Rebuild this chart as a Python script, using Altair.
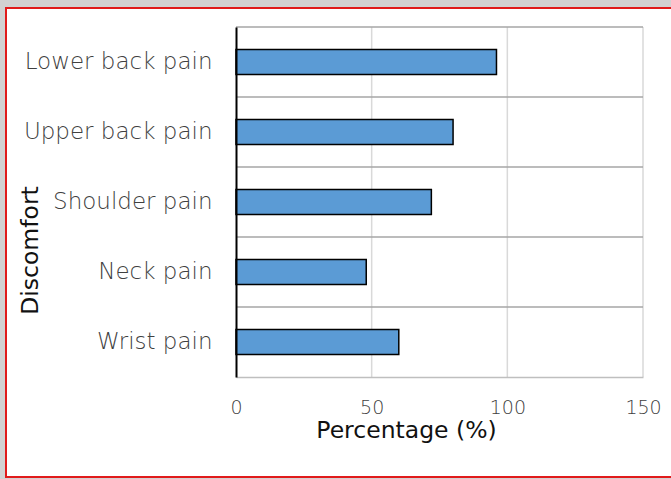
import altair as alt
import pandas as pd

categories = ["Lower back pain", "Upper back pain", "Shoulder pain", "Neck pain", "Wrist pain"]
values = [96, 80, 72, 48, 60]
x_ticks = [0, 50, 100, 150]
grid_values = [50, 100, 150]

df = pd.DataFrame({"Discomfort": categories, "Percentage": values})
gdf = pd.DataFrame({"g": grid_values})

FONT = "DejaVu Sans"

xscale = alt.Scale(domain=[0, 150], nice=False, zero=True)
yscale = alt.Scale(domain=categories, paddingInner=0, paddingOuter=0)

x_axis = alt.Axis(
    values=x_ticks, grid=False, ticks=False, domain=True, domainColor="#bfbfbf",
    domainWidth=1.5, labelFlush=False, labelPadding=21, labelFont=FONT,
    labelFontSize=19, labelFontWeight=200, labelColor="#404040",
    title="Percentage (%)", titleFont=FONT, titleFontSize=23.5, titleFontWeight=500,
    titleColor="#111111", titleX=170, titleY=60, titleAlign="center",
    titleBaseline="alphabetic", zindex=1,
)
y_axis = alt.Axis(
    grid=False, ticks=False, domain=True, domainColor="black", domainWidth=2,
    labelPadding=24, labelLimit=300, labelFont=FONT, labelFontSize=23, labelFontWeight=200,
    labelColor="#404040", title="Discomfort", titleFont=FONT, titleFontSize=23.5,
    titleFontWeight=500, titleColor="#111111", titleAngle=270, titleX=-199,
    titleY=223, titleAlign="center", titleBaseline="alphabetic", zindex=1,
)

frame = alt.Chart(alt.Data(values=[{}])).mark_rect(
    fill="white", stroke="#e01b1b", strokeWidth=2
).encode(x=alt.value(-230), x2=alt.value(720), y=alt.value(-19), y2=alt.value(450))

vgrid = alt.Chart(gdf).mark_rule(color="#d9d9d9", strokeWidth=1.5).encode(
    x=alt.X("g:Q", scale=xscale, axis=x_axis)
)

hgrid = alt.Chart(df).mark_rule(color="#a6a6a6", strokeWidth=1.5).encode(
    y=alt.Y("Discomfort:N", scale=yscale, bandPosition=0, axis=y_axis)
)

bars = alt.Chart(df).mark_bar(size=25, fill="#5b9bd5", stroke="black", strokeWidth=1.5).encode(
    x=alt.X("Percentage:Q", scale=xscale, axis=x_axis),
    y=alt.Y("Discomfort:N", scale=yscale, axis=y_axis),
)

chart = alt.layer(frame, vgrid, hgrid, bars).properties(
    width=407,
    height=350,
    padding={"left": 236, "top": 27, "right": 28, "bottom": 102},
    autosize=alt.AutoSizeParams(type="none"),
    background="#d2d2d2",
).configure_view(stroke=None)

chart.save("out.html", embed_options={"renderer": "svg", "actions": False})
